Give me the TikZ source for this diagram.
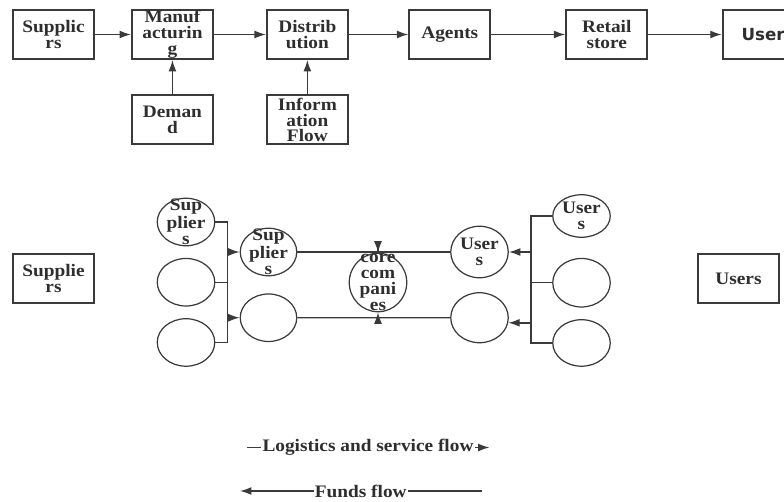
\documentclass[tikz,border=0pt]{standalone}
\usepackage{fontspec}
\setmainfont{Liberation Serif}[FakeStretch=1.1]
\newfontfamily\usrfont{DejaVu Sans}
\usetikzlibrary{arrows.meta, positioning, shapes.geometric}

\definecolor{ink}{HTML}{2E2E2E}
\definecolor{edge}{HTML}{3A3A3A}

\begin{document}
\begin{tikzpicture}[
    box/.style={draw=edge, line width=1.1pt, rectangle, align=center, minimum width=1.62cm, minimum height=0.98cm, inner sep=0pt, text=ink, font=\fontsize{10}{9}\selectfont\bfseries},
    oval/.style={draw=edge, line width=0.7pt, ellipse, minimum width=1.15cm, minimum height=0.95cm, inner sep=0pt},
    tag/.style={align=center, inner sep=0pt, text=ink, font=\fontsize{10}{9}\selectfont\bfseries},
    line/.style={draw=edge, line width=0.8pt},
    arrow/.style={line, -{Latex[length=6.5pt, width=4.5pt]}},
    legend/.style={fill=white, inner sep=0.6pt, text=ink, font=\fontsize{10}{12}\selectfont\bfseries}
]

\useasboundingbox (0,0) rectangle (15.68,-10.02);

% supply chain, top row
\node[box] (sup) at (1.07,-0.69) {Supplic\\rs};
\node[box, right=0.72cm of sup] (manuf) {Manuf\\acturin\\g};
\node[box, right=1.04cm of manuf] (dist) {Distrib\\ution};
\node[box, right=1.19cm of dist] (agents) {Agents};
\node[box, right=1.48cm of agents] (retail) {Retail\\store};
\node[box, right=1.47cm of retail, font=\usrfont\fontsize{9.5}{11}\selectfont\bfseries] (user) {User};

\node[box, below=0.69cm of manuf] (demand) {Deman\\d};
\node[box, below=0.69cm of dist] (info) {Inform\\ation\\Flow};

\draw[arrow] (sup) -- (manuf);
\draw[arrow] (manuf) -- (dist);
\draw[arrow] (dist) -- (agents);
\draw[arrow] (agents) -- (retail);
\draw[arrow] (retail) -- (user);
\draw[arrow] (demand) -- (manuf);
\draw[arrow] (info) -- (dist);

% network around the core company
\node[box] (supb) at (1.07,-5.57) {Supplie\\rs};
\node[box] (usrb) at (14.77,-5.57) {Users};

\node[oval, label={[tag]center:Sup\\plier\\s}] (sl1) at (3.72,-4.44) {};
\node[oval, below=0.23cm of sl1] (sl2) {};
\node[oval, below=0.23cm of sl2] (sl3) {};

\node[oval, minimum width=1.13cm, label={[tag]center:Sup\\plier\\s}] (sm1) at (5.37,-5.04) {};
\node[oval, minimum width=1.13cm, below=0.34cm of sm1] (sm2) {};

\node[oval, minimum height=1.17cm, label={[tag]center:core\\com\\pani\\es}] (core) at (7.56,-5.65) {};

\node[oval, minimum height=1.03cm, label={[tag]center:User\\s}] (um1) at (9.59,-5.04) {};
\node[oval, minimum height=1.0cm, below=0.275cm of um1] (um2) {};

\node[oval, minimum height=0.85cm, label={[tag]center:User\\s}] (ur1) at (11.63,-4.32) {};
\node[oval, minimum height=0.97cm, below=0.4cm of ur1] (ur2) {};
\node[oval, minimum height=0.93cm, below=0.23cm of ur2] (ur3) {};

\coordinate (lbus) at (4.55,0);
\coordinate (rbus) at (10.62,0);

\draw[line] (sl1.east) -| (lbus |- sl3.east) -- (sl3.east);
\draw[line] (sl2.east) -- (lbus |- sl2.east);
\draw[arrow] (lbus |- sm1.west) -- (sm1.west);
\draw[arrow] (lbus |- sm2.west) -- (sm2.west);

\draw[line] (sm1.east) -- (um1.west);
\draw[line] (sm2.east) -- (um2.west);
\draw[arrow] (core.north |- sm1.east) -- (core.north);
\draw[arrow] (core.south |- sm2.east) -- (core.south);

\draw[line] (ur1.west) -| (rbus |- ur3.west) -- (ur3.west);
\draw[line] (ur2.west) -- (rbus |- ur2.west);
\draw[arrow] (rbus |- um1.east) -- (um1.east);
\draw[arrow] (rbus |- um2.-10) -- (um2.-10);

% flow legend
\coordinate (lg1) at (4.93,-8.95);
\coordinate (lg2) at (9.79,-8.95);
\coordinate (fd1) at (4.80,-9.82);
\coordinate (fd2) at (9.63,-9.82);

\draw[arrow] (lg1) -- node[legend] {Logistics and service flow} (lg2);
\draw[arrow] (fd2) -- node[legend] {Funds flow} (fd1);

\end{tikzpicture}
\end{document}
